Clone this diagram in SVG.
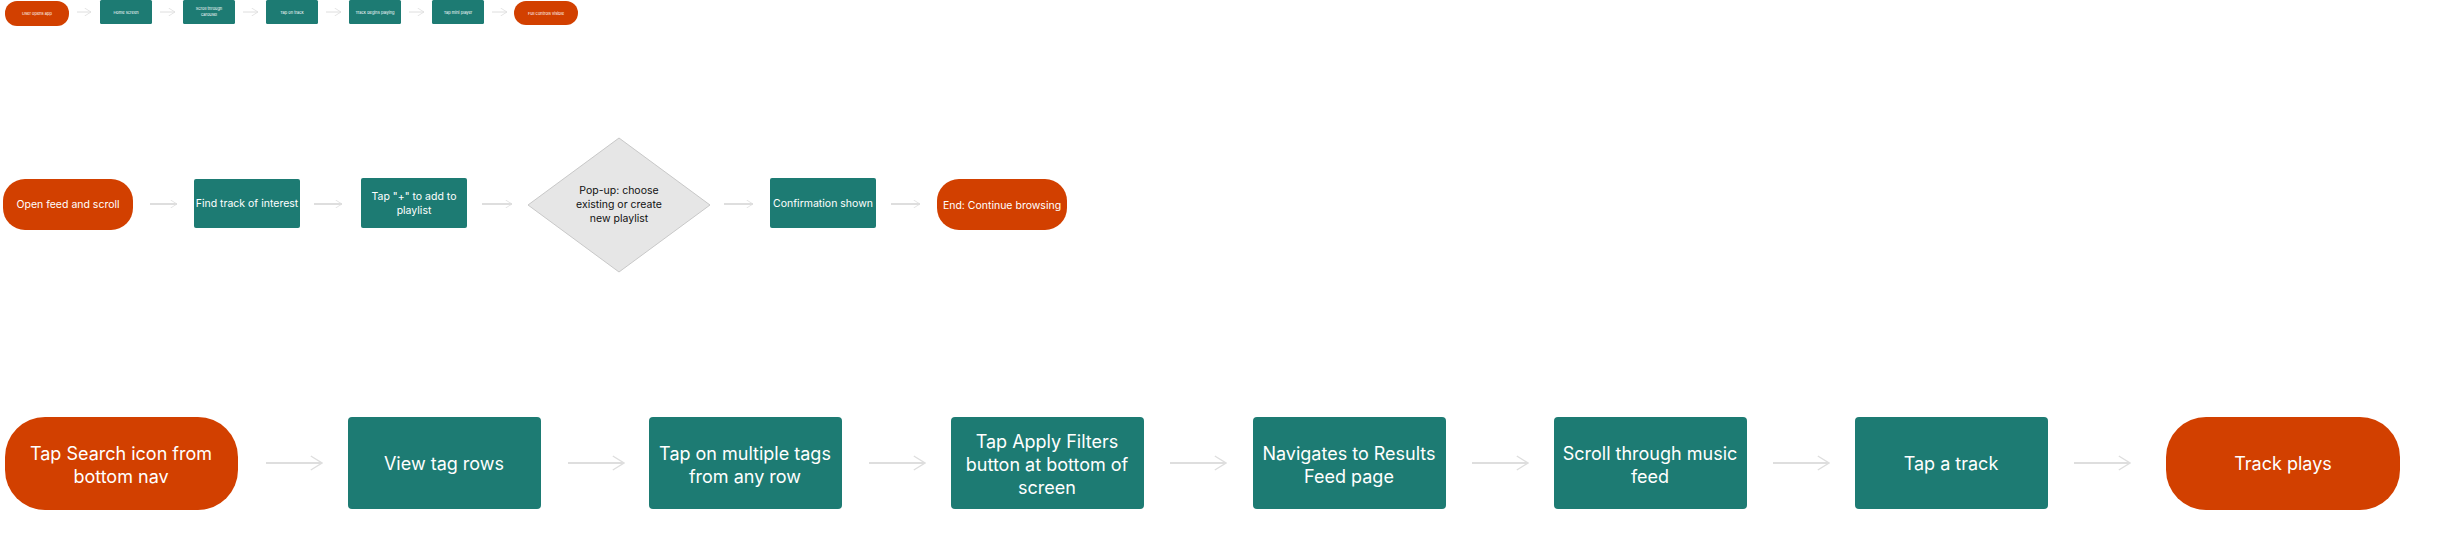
<svg xmlns="http://www.w3.org/2000/svg" width="2458" height="542" viewBox="0 0 2458 542">
<style>
.o{fill:#D24000}.t{fill:#1D7B73}
text{font-family:Inter,"Noto Sans",sans-serif;fill:#fff;text-anchor:middle}
.s{font-size:4px}.m{font-size:10.5px}.b{font-size:18px}
.d{fill:#e6e6e6;stroke:#c8c8c8;stroke-width:1}
.dt{fill:#111}
.c{stroke:#dedede;fill:none}
</style>
<defs>
<marker id="a" viewBox="0 0 10 10" refX="9" refY="5" markerWidth="8" markerHeight="8" orient="auto" markerUnits="userSpaceOnUse"><path d="M1 0L9 5L1 10" fill="none" stroke="#dedede" stroke-width="1"/></marker>
<marker id="ab" viewBox="0 0 10 10" refX="9" refY="5" markerWidth="14" markerHeight="16" orient="auto" markerUnits="userSpaceOnUse"><path d="M1 0L9 5L1 10" fill="none" stroke="#dedede" stroke-width="1"/></marker>
</defs>
<g id="connectors" class="c">
<g stroke-width="1"><path d="M77 12H91" marker-end="url(#a)"/><path d="M160 12H175" marker-end="url(#a)"/><path d="M243 12H258" marker-end="url(#a)"/><path d="M326 12H341" marker-end="url(#a)"/><path d="M409 12H424" marker-end="url(#a)"/><path d="M492 12H507" marker-end="url(#a)"/></g>
<g stroke-width="2"><path d="M150 204H177" marker-end="url(#a)"/><path d="M314 204H342" marker-end="url(#a)"/><path d="M482 204H512" marker-end="url(#a)"/><path d="M724 204H753" marker-end="url(#a)"/><path d="M891 204H920" marker-end="url(#a)"/></g>
<g stroke-width="2"><path d="M266 463H322" marker-end="url(#ab)"/><path d="M568 463H624" marker-end="url(#ab)"/><path d="M869 463H925" marker-end="url(#ab)"/><path d="M1170 463H1226" marker-end="url(#ab)"/><path d="M1472 463H1528" marker-end="url(#ab)"/><path d="M1773 463H1829" marker-end="url(#ab)"/><path d="M2074 463H2130" marker-end="url(#ab)"/></g>
</g>
<g id="n1"><rect class="o" x="5" y="1" width="64" height="25" rx="12"/><text class="s" x="37" y="15">User opens app</text></g>
<g id="n2"><rect class="t" x="100" y="0" width="52" height="24" rx="1.5"/><text class="s" x="126" y="13.5">Home screen</text></g>
<g id="n3"><rect class="t" x="183" y="0" width="52" height="24" rx="1.5"/><text class="s" x="209" y="10">Scroll through</text><text class="s" x="209" y="15.5">carousel</text></g>
<g id="n4"><rect class="t" x="266" y="0" width="52" height="24" rx="1.5"/><text class="s" x="292" y="13.5">Tap on track</text></g>
<g id="n5"><rect class="t" x="349" y="0" width="52" height="24" rx="1.5"/><text class="s" x="375" y="13.5">Track begins playing</text></g>
<g id="n6"><rect class="t" x="432" y="0" width="52" height="24" rx="1.5"/><text class="s" x="458" y="13.5">Tap mini player</text></g>
<g id="n7"><rect class="o" x="514" y="1" width="64" height="24" rx="12"/><text class="s" x="546" y="14.5">Full controls visible</text></g>

<g id="m1"><rect class="o" x="3" y="179" width="130" height="51" rx="22"/><text class="m" x="68" y="208">Open feed and scroll</text></g>
<g id="m2"><rect class="t" x="194" y="179" width="106" height="49" rx="2"/><text class="m" x="247" y="207">Find track of interest</text></g>
<g id="m3"><rect class="t" x="361" y="178" width="106" height="50" rx="2"/><text class="m" x="414" y="200">Tap "+" to add to</text><text class="m" x="414" y="214">playlist</text></g>
<g id="m4"><path class="d" d="M619 138L710 205L619 272L528 205Z"/><text class="m dt" x="619" y="194">Pop-up: choose</text><text class="m dt" x="619" y="208">existing or create</text><text class="m dt" x="619" y="222">new playlist</text></g>
<g id="m5"><rect class="t" x="770" y="178" width="106" height="50" rx="2"/><text class="m" x="823" y="207">Confirmation shown</text></g>
<g id="m6"><rect class="o" x="937" y="179" width="130" height="51" rx="22"/><text class="m" x="1002" y="209">End: Continue browsing</text></g>

<g id="b1"><rect class="o" x="5" y="417" width="233" height="93" rx="40"/><text class="b" x="121" y="460">Tap Search icon from</text><text class="b" x="121" y="483">bottom nav</text></g>
<g id="b2"><rect class="t" x="348" y="417" width="193" height="92" rx="4"/><text class="b" x="444" y="470">View tag rows</text></g>
<g id="b3"><rect class="t" x="649" y="417" width="193" height="92" rx="4"/><text class="b" x="745" y="460">Tap on multiple tags</text><text class="b" x="745" y="483">from any row</text></g>
<g id="b4"><rect class="t" x="951" y="417" width="193" height="92" rx="4"/><text class="b" x="1047" y="448">Tap Apply Filters</text><text class="b" x="1047" y="471">button at bottom of</text><text class="b" x="1047" y="494">screen</text></g>
<g id="b5"><rect class="t" x="1253" y="417" width="193" height="92" rx="4"/><text class="b" x="1349" y="460">Navigates to Results</text><text class="b" x="1349" y="483">Feed page</text></g>
<g id="b6"><rect class="t" x="1554" y="417" width="193" height="92" rx="4"/><text class="b" x="1650" y="460">Scroll through music</text><text class="b" x="1650" y="483">feed</text></g>
<g id="b7"><rect class="t" x="1855" y="417" width="193" height="92" rx="4"/><text class="b" x="1951" y="470">Tap a track</text></g>
<g id="b8"><rect class="o" x="2166" y="417" width="234" height="93" rx="40"/><text class="b" x="2283" y="470">Track plays</text></g>
</svg>
